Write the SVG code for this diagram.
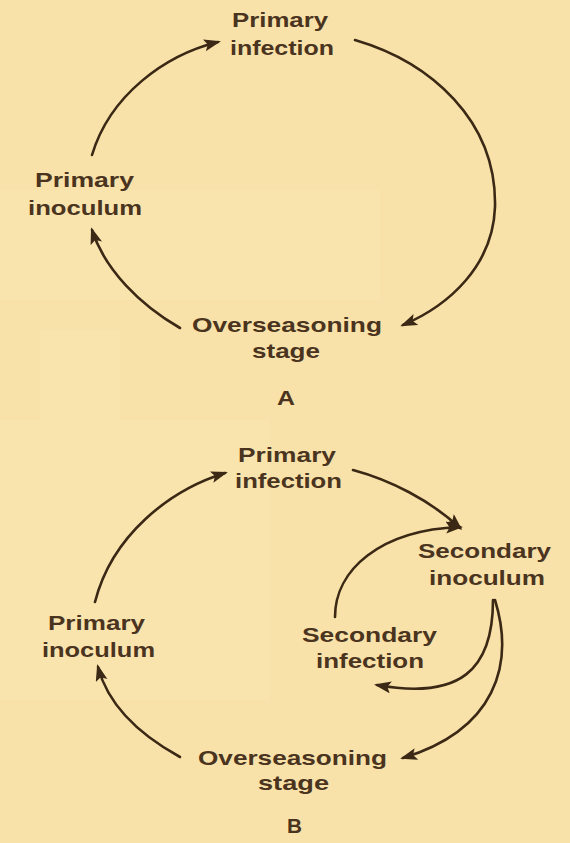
<svg xmlns="http://www.w3.org/2000/svg" width="570" height="843" viewBox="0 0 570 843">
<style>
.t{font-family:"Liberation Sans",Arial,sans-serif;font-size:21px;font-weight:bold;fill:#4a3420;}
.c{fill:none;stroke:#3b2815;stroke-width:2.6;stroke-linecap:round;marker-end:url(#ah);}
</style>
<defs>
<marker id="ah" markerUnits="userSpaceOnUse" markerWidth="18" markerHeight="14" refX="14" refY="6" orient="auto">
<path d="M0,0 L17,6 L0,12 L3.5,6 z" fill="#3b2815"/>
</marker>
</defs>
<rect width="570" height="843" fill="#f9e2a9"/>
<g id="bg" fill="#fce9bb" opacity="0.3">
<rect x="0" y="190" width="380" height="110"/>
<rect x="40" y="330" width="80" height="100"/>
<rect x="0" y="420" width="270" height="280"/>
</g>
<g id="connectors">
<path class="c" d="M92,155 C110,95 165,55 218,42"/>
<path class="c" d="M355,40 C430,62 497,120 495,207 C493,265 450,305 403,325"/>
<path class="c" d="M180,328 C140,305 105,270 92,230"/>
<path class="c" d="M95,602 C112,535 170,490 225,473"/>
<path class="c" d="M353,470 C390,480 430,500 460,528"/>
<path class="c" d="M335,617 C335,570 380,530 460,527"/>
<path class="c" d="M493,600 C493,670 460,700 377,685"/>
<path class="c" d="M495,600 C515,665 495,730 403,758"/>
<path class="c" d="M180,757 C140,735 108,705 98,667"/>
</g>
<g id="a-primary-infection">
<text class="t" x="232" y="27" textLength="96" lengthAdjust="spacingAndGlyphs">Primary</text>
<text class="t" x="230" y="55" textLength="104" lengthAdjust="spacingAndGlyphs">infection</text>
</g>
<g id="a-primary-inoculum">
<text class="t" x="35" y="187" textLength="99" lengthAdjust="spacingAndGlyphs">Primary</text>
<text class="t" x="28" y="215" textLength="114" lengthAdjust="spacingAndGlyphs">inoculum</text>
</g>
<g id="a-overseasoning">
<text class="t" x="192" y="332" textLength="190" lengthAdjust="spacingAndGlyphs">Overseasoning</text>
<text class="t" x="252" y="358" textLength="68" lengthAdjust="spacingAndGlyphs">stage</text>
</g>
<g id="label-a"><text class="t" x="277" y="405" textLength="18" lengthAdjust="spacingAndGlyphs">A</text></g>
<g id="b-primary-infection">
<text class="t" x="238" y="462" textLength="98" lengthAdjust="spacingAndGlyphs">Primary</text>
<text class="t" x="235" y="488" textLength="107" lengthAdjust="spacingAndGlyphs">infection</text>
</g>
<g id="b-secondary-inoculum">
<text class="t" x="418" y="558" textLength="133" lengthAdjust="spacingAndGlyphs">Secondary</text>
<text class="t" x="429" y="585" textLength="116" lengthAdjust="spacingAndGlyphs">inoculum</text>
</g>
<g id="b-secondary-infection">
<text class="t" x="302" y="642" textLength="135" lengthAdjust="spacingAndGlyphs">Secondary</text>
<text class="t" x="316" y="668" textLength="108" lengthAdjust="spacingAndGlyphs">infection</text>
</g>
<g id="b-primary-inoculum">
<text class="t" x="48" y="630" textLength="97" lengthAdjust="spacingAndGlyphs">Primary</text>
<text class="t" x="42" y="657" textLength="113" lengthAdjust="spacingAndGlyphs">inoculum</text>
</g>
<g id="b-overseasoning">
<text class="t" x="198" y="765" textLength="189" lengthAdjust="spacingAndGlyphs">Overseasoning</text>
<text class="t" x="258" y="790" textLength="71" lengthAdjust="spacingAndGlyphs">stage</text>
</g>
<g id="label-b"><text class="t" x="287" y="833" textLength="15" lengthAdjust="spacingAndGlyphs">B</text></g>
</svg>
